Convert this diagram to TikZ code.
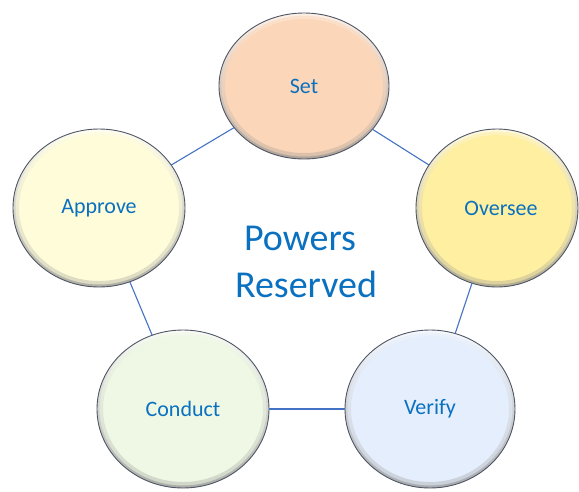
\documentclass[tikz,border=0pt]{standalone}
\usepackage{fontspec}
\setmainfont{Carlito}
\usetikzlibrary{shapes.geometric}

\definecolor{txtblue}{HTML}{0A70C0}
\definecolor{linkblue}{HTML}{4472C4}
\definecolor{rim}{HTML}{4F5666}
\definecolor{setfill}{HTML}{FCD6B8}
\definecolor{overfill}{HTML}{FFEFA0}
\definecolor{verfill}{HTML}{E5EEFC}
\definecolor{confill}{HTML}{EEF8E4}
\definecolor{appfill}{HTML}{FFFDD9}

\tikzset{
  bubble/.style={ellipse, inner sep=0pt, outer sep=0pt,
    font=\fontsize{22}{26}\selectfont, text=txtblue},
  link/.style={draw=linkblue, line width=1.1pt},
  bigtext/.style={font=\fontsize{38}{46}\selectfont, text=txtblue, anchor=base, inner sep=0pt},
}

% Soft bevel inside an elliptic node: #1 name, #2 x radius, #3 y radius, #4 fill colour
\newcommand\bevelring[4]{%
  \begin{scope}
    \clip (#1.center) ellipse [x radius=#2pt, y radius=#3pt];
    \shade[even odd rule, opacity=0.3, top color=white, middle color=#4, bottom color=black!45]
      (#1.center) ellipse [x radius=#2pt, y radius=#3pt]
      (#1.center) ellipse [x radius=#2pt-6pt, y radius=#3pt-6pt];
    \shade[even odd rule, opacity=0.55, top color=white, middle color=#4, bottom color=black!45]
      (#1.center) ellipse [x radius=#2pt, y radius=#3pt]
      (#1.center) ellipse [x radius=#2pt-2.5pt, y radius=#3pt-2.5pt];
  \end{scope}
  \draw[rim, line width=0.9pt] (#1.center) ellipse [x radius=#2pt, y radius=#3pt];
}

\begin{document}
\begin{tikzpicture}[x=1pt, y=-1pt]
  \useasboundingbox (0,0) rectangle (579,491);

  % the five bubbles
  \node[bubble, fill=setfill, minimum width=170pt, minimum height=146pt] (set) at (304,86) {Set};
  \node[bubble, fill=overfill, minimum width=162pt, minimum height=158pt] (oversee) at (497,208) {\hspace*{8pt}Oversee};
  \node[bubble, fill=verfill, minimum width=170pt, minimum height=158pt] (verify) at (430,409) {Verify};
  \node[bubble, fill=confill, minimum width=172pt, minimum height=158pt] (conduct) at (183,409) {Conduct};
  \node[bubble, fill=appfill, minimum width=172pt, minimum height=158pt] (approve) at (99,208) {Approve};

  \bevelring{set}{85}{73}{setfill}
  \bevelring{oversee}{81}{79}{overfill}
  \bevelring{verify}{85}{79}{verfill}
  \bevelring{conduct}{86}{79}{confill}
  \bevelring{approve}{86}{79}{appfill}

  % ring of connectors
  \draw[link] (set) -- (oversee);
  \draw[link] (oversee) -- (verify);
  \draw[link] (verify) -- (conduct);
  \draw[link] (conduct) -- (approve);
  \draw[link] (approve) -- (set);

  % centre title
  \node[bigtext] (powers) at (300,250) {Powers};
  \node[bigtext] (reserved) at (306,297) {Reserved};
\end{tikzpicture}
\end{document}
